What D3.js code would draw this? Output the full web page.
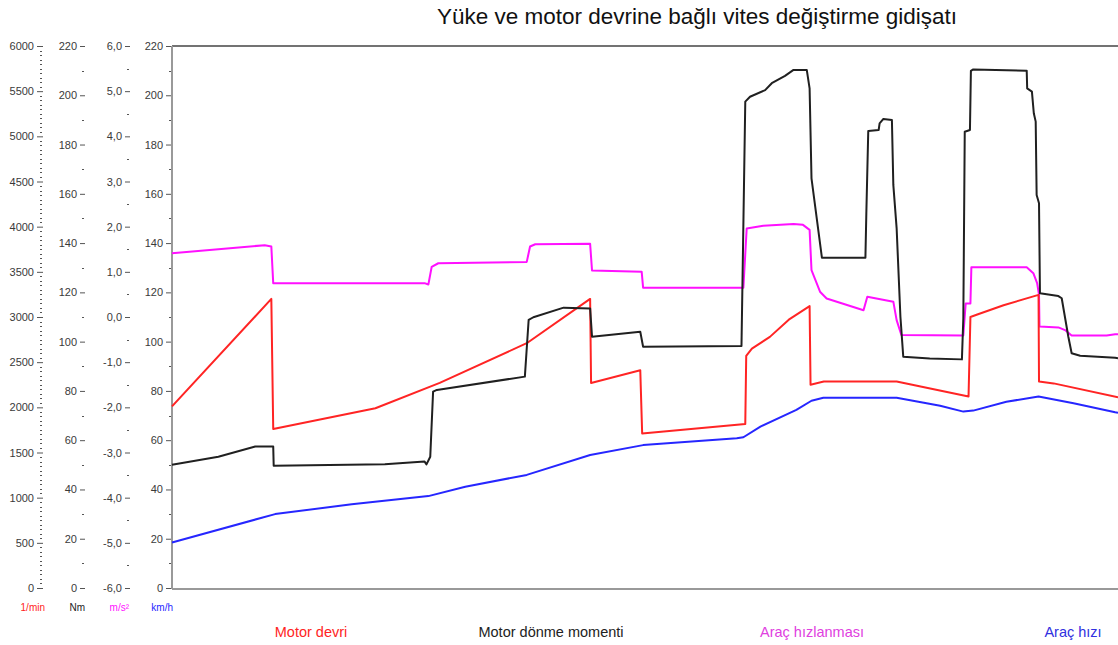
<!DOCTYPE html>
<html>
<head>
<meta charset="utf-8">
<script src="https://cdn.jsdelivr.net/npm/d3@7"></script>
<style>
  body { margin: 0; background: #fff; }
  svg { display: block; font-family: "Liberation Sans", Arial, sans-serif; }
</style>
</head>
<body>
<div id="chart"></div>
<script>
// time axis is 0..100 (share of the run)
var redT   = [0, 10.5, 10.7, 21.5, 28.3, 37.5, 44.2, 44.3, 49.5, 49.7, 60.6, 60.7, 61.3, 63.2, 65.2, 67.4, 67.5, 68.9, 76.6, 84.2, 84.4, 85.2, 87.9, 91.6, 91.65, 93.2, 100];
var redRpm = [2010, 3200, 1760, 1990, 2270, 2710, 3200, 2270, 2410, 1710, 1815, 2570, 2650, 2780, 2970, 3120, 2250, 2285, 2285, 2120, 3000, 3030, 3130, 3245, 2285, 2265, 2110];

var blackT  = [0, 4.9, 8.8, 10.7, 10.75, 22.5, 26.7, 26.9, 27.3, 27.6, 28.0, 37.3, 37.7, 38.2, 41.4, 44.2, 44.4, 49.5, 49.8, 60.2, 60.6, 61.1, 62.7, 63.4, 64.8, 65.7, 67.1, 67.4, 67.6, 68.7, 73.3, 73.4, 73.6, 74.7, 74.8, 75.2, 76.1, 76.25, 76.6, 77.0, 77.3, 80.1, 83.5, 83.65, 83.8, 84.35, 84.45, 84.7, 90.35, 90.4, 90.9, 91.1, 91.3, 91.4, 91.65, 91.75, 93.7, 94.05, 94.75, 95.1, 96.0, 99.7, 100];
var blackNm = [50, 53.3, 57.4, 57.4, 49.6, 50.2, 51.3, 50.2, 53.3, 79.7, 80.4, 85.8, 108.8, 109.9, 113.8, 113.5, 102, 104, 97.9, 98.2, 197.4, 199.4, 202.1, 204.9, 207.9, 210.3, 210.3, 202.8, 166.3, 134.1, 134.1, 152.7, 185.5, 185.9, 188.6, 190.4, 190, 163.6, 146, 110.1, 93.9, 93.2, 92.8, 109.5, 185.2, 185.9, 209.9, 210.5, 210, 202.8, 201.5, 192.7, 189.3, 159.5, 156.2, 119.6, 118.5, 117.6, 102, 95.3, 94.3, 93.5, 93.3];

var magT   = [0, 9.8, 10.5, 10.7, 26.7, 27.1, 27.45, 28.15, 37.5, 37.85, 38.4, 44.2, 44.4, 49.65, 49.8, 60.4, 60.75, 62.5, 65.7, 66.7, 67.4, 67.6, 68.5, 69.2, 73.1, 73.5, 76.25, 76.6, 77.1, 83.65, 83.9, 84.4, 84.5, 90.35, 91.05, 91.45, 91.65, 91.7, 93.7, 94.4, 95.1, 98.8, 99.7, 100];
var magAcc = [1.41, 1.59, 1.56, 0.75, 0.75, 0.72, 1.11, 1.19, 1.22, 1.56, 1.61, 1.62, 1.03, 1.0, 0.65, 0.65, 1.96, 2.02, 2.06, 2.04, 1.93, 1.04, 0.56, 0.41, 0.15, 0.45, 0.34, -0.07, -0.4, -0.41, 0.3, 0.3, 1.1, 1.1, 0.97, 0.75, 0.49, -0.21, -0.23, -0.29, -0.41, -0.41, -0.38, -0.38];

var blueT   = [0, 10.9, 19.0, 27.1, 31.0, 37.5, 44.2, 49.8, 59.7, 60.4, 62.2, 66.0, 67.6, 68.85, 76.6, 81.2, 83.65, 84.7, 88.2, 91.6, 95.3, 99.7, 100];
var blueKmh = [18.5, 30.0, 34.0, 37.3, 41.1, 45.9, 54.0, 58.0, 60.8, 61.2, 65.5, 72.3, 76.0, 77.2, 77.2, 74.0, 71.6, 72.0, 75.6, 77.7, 75.0, 71.3, 71.1];

var rpmTicks = [0, 500, 1000, 1500, 2000, 2500, 3000, 3500, 4000, 4500, 5000, 5500, 6000];
var nmTicks  = [0, 20, 40, 60, 80, 100, 120, 140, 160, 180, 200, 220];
var accTicks = [-6, -5, -4, -3, -2, -1, 0, 1, 2, 3, 4, 5, 6];
var accLabels = ["-6,0", "-5,0", "-4,0", "-3,0", "-2,0", "-1,0", "0,0", "1,0", "2,0", "3,0", "4,0", "5,0", "6,0"];
var kmhTicks = [0, 20, 40, 60, 80, 100, 120, 140, 160, 180, 200, 220];

var units  = ["1/min", "Nm", "m/s²", "km/h"];
var series = ["Motor devri", "Motor dönme momenti", "Araç hızlanması", "Araç hızı"];

var W = 1118, H = 645;
var plot = {left: 172, right: 1118, top: 46, bottom: 588};
var cRed = "#ff2424", cBlack = "#202020", cMag = "#ff10ff", cBlue = "#2626ff";

var svg = d3.select("#chart").append("svg").attr("width", W).attr("height", H);

var x = d3.scaleLinear().domain([0, 100]).range([plot.left, plot.right]);
var yRpm = d3.scaleLinear().domain([0, 6000]).range([plot.bottom, plot.top]);
var yNm  = d3.scaleLinear().domain([0, 220]).range([plot.bottom, plot.top]);
var yAcc = d3.scaleLinear().domain([-6, 6]).range([plot.bottom, plot.top]);
var yKmh = d3.scaleLinear().domain([0, 220]).range([plot.bottom, plot.top]);

// title
svg.append("text").attr("x", 697).attr("y", 24).attr("text-anchor", "middle")
  .attr("font-size", "22.5px").attr("fill", "#111")
  .text("Yüke ve motor devrine bağlı vites değiştirme gidişatı");

// frame
svg.append("line").attr("x1", plot.left).attr("x2", plot.right).attr("y1", plot.top).attr("y2", plot.top)
  .attr("stroke", "#444").attr("stroke-width", 1.5);

function drawAxis(xPos, scale, ticks, labels, minor, tickLen) {
  var g = svg.append("g").attr("transform", "translate(" + xPos + ",0)");
  g.call(d3.axisLeft(scale).tickValues(ticks).tickSize(tickLen).tickPadding(3)
    .tickFormat(function (d, i) { return labels ? labels[i] : d; }));
  g.select(".domain").remove();
  g.selectAll(".tick line").attr("stroke", "#555");
  g.selectAll(".tick text").attr("font-size", "11px").attr("fill", "#3a3a3a")
    .attr("font-family", "'Liberation Sans', Arial, sans-serif");
  g.selectAll(".minor").data(minor).enter().append("line")
    .attr("x1", -3).attr("x2", -1)
    .attr("y1", function (d) { return Math.round(scale(d)) + 0.5; })
    .attr("y2", function (d) { return Math.round(scale(d)) + 0.5; })
    .attr("stroke", "#555");
  return g;
}

drawAxis(43, yRpm, rpmTicks, null, d3.range(50, 6000, 50).filter(function (d) { return d % 500; }), 6);
drawAxis(85, yNm, nmTicks, null, d3.range(10, 220, 20), 5);
drawAxis(130, yAcc, accTicks, accLabels, d3.range(-5.5, 6, 1), 5);
drawAxis(172, yKmh, kmhTicks, null, d3.range(10, 220, 20), 6);

// plot left + bottom borders
svg.append("line").attr("x1", plot.left).attr("x2", plot.left).attr("y1", plot.top).attr("y2", plot.bottom + 1)
  .attr("stroke", "#999").attr("stroke-width", 2);
svg.append("line").attr("x1", plot.left).attr("x2", plot.right).attr("y1", plot.bottom + 1).attr("y2", plot.bottom + 1)
  .attr("stroke", "#999").attr("stroke-width", 2);

// unit labels under the axes
var unitX = [45, 85, 129, 173];
var unitC = [cRed, "#222", cMag, cBlue];
svg.selectAll(".unit").data(units).enter().append("text")
  .attr("x", function (d, i) { return unitX[i]; }).attr("y", 611)
  .attr("text-anchor", "end").attr("font-size", "10px")
  .attr("fill", function (d, i) { return unitC[i]; })
  .text(function (d) { return d; });

// lines
function drawLine(ts, vs, scale, color) {
  var pts = ts.map(function (t, i) { return [t, vs[i]]; });
  svg.append("path").datum(pts)
    .attr("fill", "none").attr("stroke", color).attr("stroke-width", 2)
    .attr("stroke-linejoin", "round")
    .attr("d", d3.line()
      .x(function (d) { return x(d[0]); })
      .y(function (d) { return scale(d[1]); }));
}

drawLine(magT, magAcc, yAcc, cMag);
drawLine(blueT, blueKmh, yKmh, cBlue);
drawLine(redT, redRpm, yRpm, cRed);
drawLine(blackT, blackNm, yNm, cBlack);

// legend labels
var legX = [311, 551, 812, 1073];
var legC = [cRed, "#222", "#e040e0", "#3030e0"];
svg.selectAll(".leg").data(series).enter().append("text")
  .attr("x", function (d, i) { return legX[i]; }).attr("y", 637)
  .attr("text-anchor", "middle").attr("font-size", "14.5px")
  .attr("fill", function (d, i) { return legC[i]; })
  .text(function (d) { return d; });
</script>
</body>
</html>
